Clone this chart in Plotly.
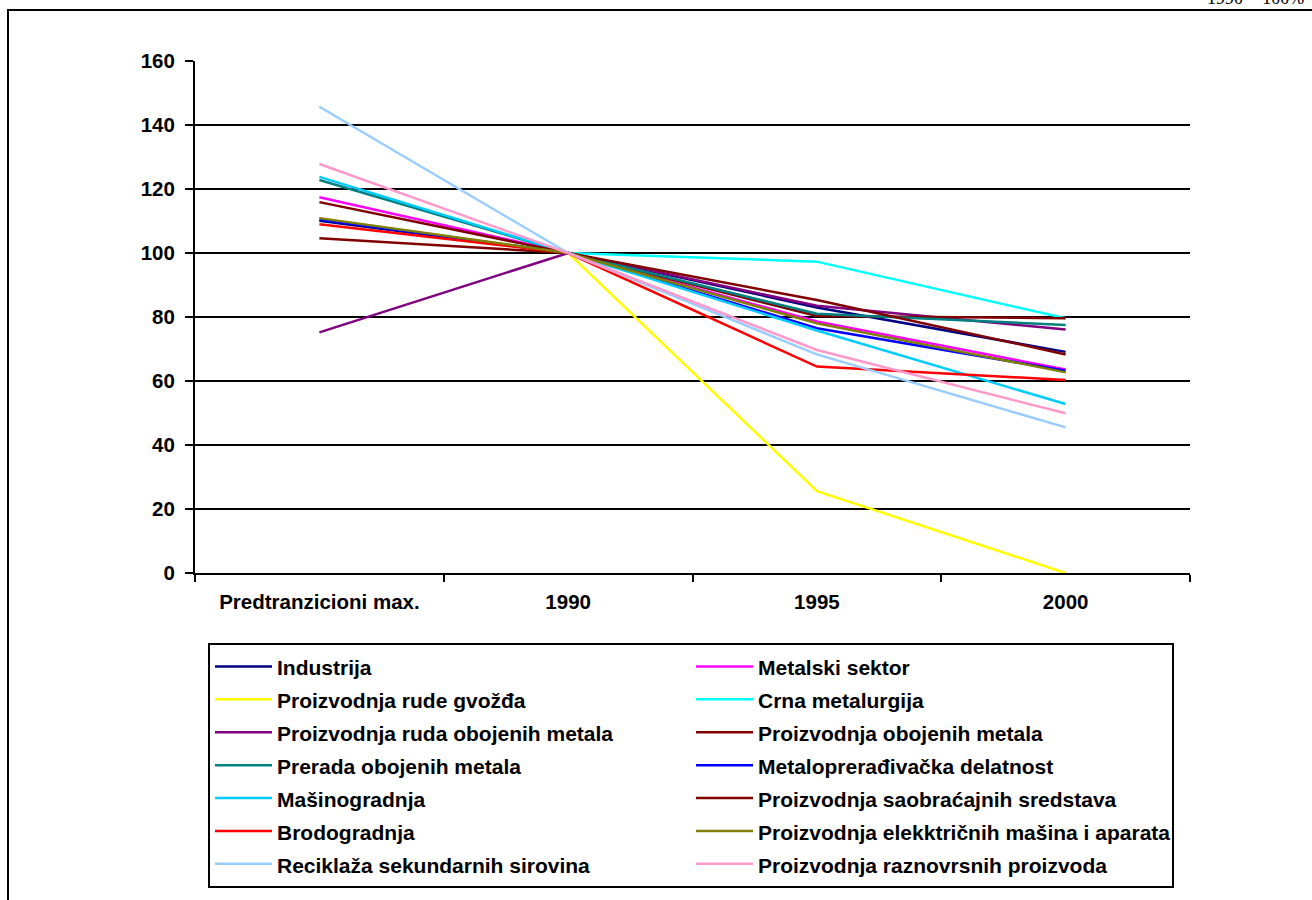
import plotly.graph_objects as go

categories = ["Predtranzicioni max.", "1990", "1995", "2000"]

series_names = [
    "Industrija",
    "Metalski sektor",
    "Proizvodnja rude gvožđa",
    "Crna metalurgija",
    "Proizvodnja ruda obojenih metala",
    "Proizvodnja obojenih metala",
    "Prerada obojenih metala",
    "Metaloprerađivačka delatnost",
    "Mašinogradnja",
    "Proizvodnja saobraćajnih sredstava",
    "Brodogradnja",
    "Proizvodnja elekktričnih mašina i aparata",
    "Reciklaža sekundarnih sirovina",
    "Proizvodnja raznovrsnih proizvoda",
]

industrija = [110.1, 100, 83.0, 69.1]
metalski_sektor = [117.4, 100, 78.6, 63.6]
ruda_gvozdja = [None, 100, 25.6, 0]
crna_metalurgija = [None, 100, 97.3, 79.6]
ruda_obojenih = [75.2, 100, 83.5, 76.1]
obojeni_metali = [104.6, 100, 80.3, 79.6]
prerada_obojenih = [122.8, 100, 81.0, 77.5]
metaloprerada = [110.5, 100, 76.5, 63.2]
masinogradnja = [123.8, 100, 75.8, 52.8]
saobracajna = [115.9, 100, 85.3, 68.3]
brodogradnja = [109.0, 100, 64.5, 60.3]
elektricne_masine = [110.9, 100, 78.0, 62.7]
reciklaza = [145.7, 100, 68.3, 45.5]
raznovrsni = [127.8, 100, 69.7, 49.9]

series_values = [
    industrija, metalski_sektor, ruda_gvozdja, crna_metalurgija, ruda_obojenih,
    obojeni_metali, prerada_obojenih, metaloprerada, masinogradnja, saobracajna,
    brodogradnja, elektricne_masine, reciklaza, raznovrsni,
]

colors = [
    "#000080", "#FF00FF", "#FFFF00", "#00FFFF", "#800080", "#800000", "#008080",
    "#0000FF", "#00CCFF", "#800000", "#FF0000", "#808000", "#99CCFF", "#FF99CC",
]

y_ticks = [0, 20, 40, 60, 80, 100, 120, 140, 160]

FONT = "Arial, Liberation Sans, sans-serif"

fig = go.Figure()
for name, vals, col in zip(series_names, series_values, colors):
    fig.add_trace(go.Scatter(
        x=categories, y=vals, mode="lines",
        name=f'<span style="font-size:21px">{name}</span>',
        line=dict(color=col, width=2.5), connectgaps=False,
    ))

# target plot-area edges in screenshot pixels
L, R, T, B = 195, 1190, 61, 573
W, H = 1312, 900

def px(x):
    return (x - L) / (R - L)

def py(y):
    return (B - y) / (B - T)

fig.update_layout(
    width=W, height=H,
    margin=dict(l=L, r=W - R, t=T, b=H - B),
    paper_bgcolor="white", plot_bgcolor="white",
    font=dict(family=FONT, color="black"),
    showlegend=True,
    legend=dict(
        orientation="h",
        x=px(208), y=py(643), xanchor="left", yanchor="top",
        itemwidth=57,
        entrywidth=409, entrywidthmode="pixels",
        bordercolor="black", borderwidth=2, bgcolor="white",
        font=dict(family=FONT, size=23, color="black", weight="bold"),
        traceorder="normal",
    ),
    xaxis=dict(
        type="category", categoryorder="array", categoryarray=categories,
        range=[-0.5, 3.5], showline=True, linecolor="black", linewidth=2,
        ticks="outside", tickson="boundaries", ticklen=7, tickwidth=2, tickcolor="black",
        showgrid=False, zeroline=False,
        tickfont=dict(family=FONT, size=20.5, weight="bold", color="black"),
        ticklabelstandoff=9,
    ),
    yaxis=dict(
        range=[0, 160], tickvals=y_ticks, showline=True, linecolor="black", linewidth=2,
        ticks="outside", ticklen=8, tickwidth=2, tickcolor="black",
        showgrid=True, gridcolor="black", gridwidth=2, zeroline=False,
        tickfont=dict(family=FONT, size=20.5, weight="bold", color="black"),
        ticklabelstandoff=6,
    ),
    shapes=[
        dict(type="rect", xref="paper", yref="paper",
             x0=px(8), x1=px(1340), y0=py(930), y1=py(10),
             line=dict(color="black", width=2), fillcolor="rgba(0,0,0,0)", layer="below"),
    ],
    annotations=[
        dict(text="1990 = 100%", xref="paper", yref="paper", x=px(1306), y=py(10),
             xanchor="right", yanchor="bottom", showarrow=False,
             font=dict(family="Liberation Serif, Times New Roman, serif", size=18, color="black")),
    ],
)

fig.write_html("out.html", config={"displayModeBar": False},
               post_script="document.body.style.margin='0';")
